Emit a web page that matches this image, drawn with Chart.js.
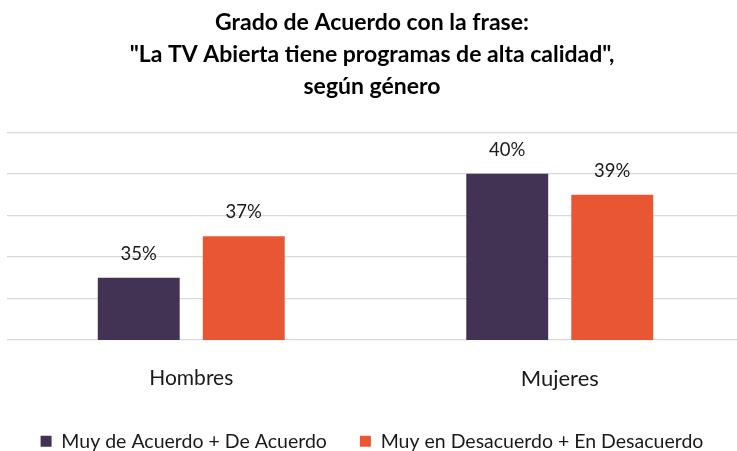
<!DOCTYPE html>
<html>
<head>
<meta charset="utf-8">
<script src="https://cdn.jsdelivr.net/npm/chart.js@4"></script>
<style>
    html, body { margin: 0; padding: 0; background: #fff; overflow: hidden; }
    .chart-box { width: 744px; height: 461px; }
</style>
</head>
<body>
<div class="chart-box"><canvas id="acuerdoChart"></canvas></div>
<script>
// Data
const categories = ["Hombres", "Mujeres"];
const seriesNames = ["Muy de Acuerdo + De Acuerdo", "Muy en Desacuerdo + En Desacuerdo"];
const deAcuerdo = [35, 40];
const enDesacuerdo = [37, 39];
const titleLines = ["Grado de Acuerdo con la frase:", "\"La TV Abierta tiene programas de alta calidad\",", "según género"];

const purple = "#423253";
const orange = "#E85634";

// Draw the % label above each bar
const barLabels = {
    id: "barLabels",
    afterDatasetsDraw(chart) {
        const ctx = chart.ctx;
        ctx.save();
        ctx.font = "18.5px Lato";
        ctx.fillStyle = "#1a1a1a";
        ctx.textAlign = "center";
        ctx.textBaseline = "middle";
        chart.data.datasets.forEach((ds, i) => {
            chart.getDatasetMeta(i).data.forEach((bar, j) => {
                ctx.fillText(ds.data[j] + "%", bar.x, bar.y - 24);
            });
        });
        ctx.restore();
    }
};

const ctxAcuerdo = document.getElementById("acuerdoChart").getContext("2d");
const acuerdoChart = new Chart(ctxAcuerdo, {
    type: "bar",
    data: {
        labels: categories,
        datasets: [{
            label: seriesNames[0],
            data: deAcuerdo,
            backgroundColor: purple,
            categoryPercentage: 0.57,
            barPercentage: 0.78
        }, {
            label: seriesNames[1],
            data: enDesacuerdo,
            backgroundColor: orange,
            categoryPercentage: 0.57,
            barPercentage: 0.78
        }]
    },
    options: {
        responsive: true,
        maintainAspectRatio: false,
        animation: false,
        layout: { padding: 0 },
        scales: {
            x: {
                grid: { display: false, drawTicks: false },
                border: { display: false },
                ticks: {
                    color: "#1a1a1a",
                    padding: 26,
                    font: (c) => ({ family: "Lato", size: c.index === 1 ? 22 : 21 })
                },
                afterFit: (scale) => { scale.height -= 20; }
            },
            y: {
                min: 32,
                max: 42,
                ticks: { display: false, stepSize: 2 },
                grid: { color: "#d9d9d9", lineWidth: 1.3, drawTicks: false },
                border: { display: false },
                afterFit: (scale) => { scale.width = 7; }
            }
        },
        plugins: {
            title: {
                display: true,
                text: titleLines,
                color: "#000",
                font: { family: "Lato", size: 23, weight: "bold", lineHeight: 1.41 },
                padding: { top: 6, bottom: 29 }
            },
            legend: {
                position: "bottom",
                labels: {
                    color: "#1a1a1a",
                    font: { family: "Lato", size: 19.5 },
                    boxWidth: 11,
                    boxHeight: 11,
                    padding: 33
                }
            },
            tooltip: { enabled: false }
        }
    },
    plugins: [barLabels]
});
</script>
</body>
</html>
